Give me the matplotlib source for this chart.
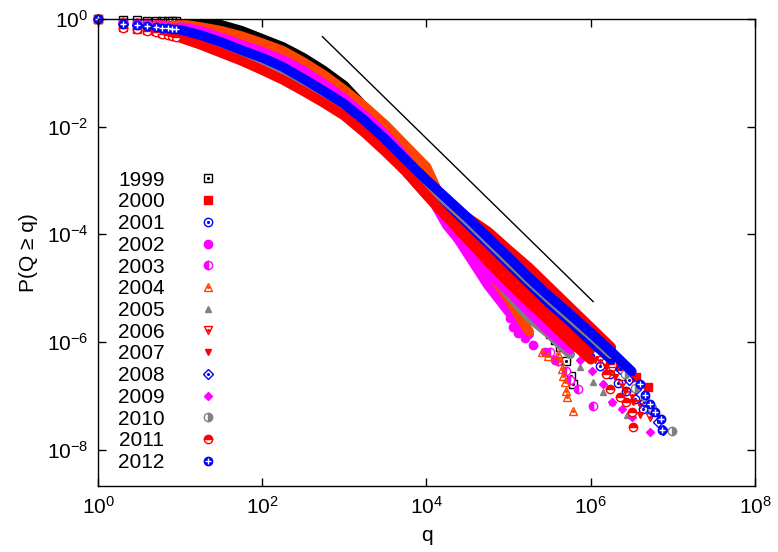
import matplotlib
matplotlib.use('Agg')
import matplotlib.pyplot as plt
from matplotlib.lines import Line2D
from matplotlib.legend_handler import HandlerTuple
from matplotlib.ticker import FixedLocator, FuncFormatter, NullLocator
import numpy as np

plt.rcParams['font.family'] = ['Liberation Sans', 'DejaVu Sans']
plt.rcParams['mathtext.fontset'] = 'custom'
plt.rcParams['mathtext.rm'] = 'Liberation Sans'

years = ['1999', '2000', '2001', '2002', '2003', '2004', '2005',
         '2006', '2007', '2008', '2009', '2010', '2011', '2012']

# log10(q) grid: integer q = 1..9, then quarter decades
lq_grid = [0.0, 0.30, 0.48, 0.60, 0.70, 0.78, 0.85, 0.90, 0.95,
           1.0, 1.25, 1.5, 1.75, 2.0, 2.25, 2.5, 2.75, 3.0, 3.25, 3.5, 3.75,
           4.0, 4.25, 4.5, 4.75, 5.0, 5.25, 5.5, 5.75, 6.0, 6.25, 6.5]
N_HEAD = 9

# log10 P(Q >= q) along lq_grid
p_1999 = [0, -0.02, -0.02, -0.03, -0.03, -0.03, -0.03, -0.04, -0.04,
          -0.04, -0.06, -0.11, -0.22, -0.37, -0.52, -0.72, -0.96, -1.24, -1.65, -2.10, -2.58,
          -3.08, -3.58, -4.10, -4.62, -5.12, -5.51]
p_2000 = [0, -0.15, -0.18, -0.21, -0.23, -0.26, -0.28, -0.30, -0.31,
          -0.32, -0.45, -0.59, -0.74, -0.89, -1.08, -1.30, -1.52, -1.76, -2.08, -2.43, -2.76,
          -3.08, -3.41, -3.69, -3.95, -4.29, -4.62, -4.99, -5.36, -5.73, -6.10]
p_2001 = [0, -0.10, -0.12, -0.14, -0.16, -0.18, -0.19, -0.20, -0.21,
          -0.22, -0.32, -0.46, -0.61, -0.76, -0.95, -1.17, -1.39, -1.63, -1.95, -2.30, -2.71,
          -3.17, -3.64, -4.06, -4.43, -4.81, -5.18, -5.55, -5.92, -6.29]
p_2002 = [0, -0.06, -0.07, -0.08, -0.09, -0.10, -0.11, -0.12, -0.12,
          -0.13, -0.20, -0.32, -0.45, -0.58, -0.72, -0.93, -1.17, -1.45, -1.76, -2.13, -2.58,
          -3.10, -3.64, -4.19, -4.81, -5.36]
p_2003 = [0, -0.07, -0.08, -0.10, -0.11, -0.12, -0.13, -0.14, -0.15,
          -0.15, -0.22, -0.33, -0.46, -0.59, -0.74, -0.95, -1.19, -1.47, -1.78, -2.17, -2.65,
          -3.21, -3.77, -4.36, -4.95, -5.44, -5.86]
p_2004 = [0, -0.04, -0.05, -0.06, -0.06, -0.07, -0.08, -0.08, -0.09,
          -0.09, -0.15, -0.22, -0.32, -0.45, -0.59, -0.80, -1.04, -1.32, -1.63, -1.97, -2.36,
          -2.75, -3.58, -4.14, -4.66, -5.21, -5.81]
p_2005 = [0, -0.11, -0.13, -0.16, -0.17, -0.19, -0.21, -0.22, -0.23,
          -0.24, -0.33, -0.48, -0.61, -0.76, -0.95, -1.17, -1.39, -1.63, -1.95, -2.30, -2.67,
          -3.04, -3.49, -4.01, -4.56, -5.12, -5.55, -5.86, -6.23]
p_2006 = [0, -0.13, -0.15, -0.18, -0.20, -0.22, -0.24, -0.26, -0.27,
          -0.28, -0.39, -0.54, -0.69, -0.83, -1.02, -1.24, -1.47, -1.71, -2.02, -2.37, -2.76,
          -3.17, -3.54, -3.91, -4.29, -4.66, -5.03, -5.40, -5.77, -6.14]
p_2007 = [0, -0.13, -0.16, -0.19, -0.22, -0.24, -0.26, -0.28, -0.29,
          -0.30, -0.43, -0.58, -0.72, -0.87, -1.06, -1.28, -1.50, -1.74, -2.06, -2.43, -2.84,
          -3.27, -3.69, -4.10, -4.47, -4.84, -5.21, -5.58, -5.96]
p_2008 = [0, -0.10, -0.12, -0.14, -0.16, -0.18, -0.19, -0.20, -0.21,
          -0.22, -0.32, -0.46, -0.61, -0.76, -0.95, -1.15, -1.37, -1.61, -1.93, -2.28, -2.65,
          -3.04, -3.43, -3.80, -4.17, -4.55, -4.92, -5.29, -5.62, -5.99, -6.33]
p_2009 = [0, -0.07, -0.08, -0.10, -0.11, -0.12, -0.13, -0.14, -0.15,
          -0.15, -0.22, -0.35, -0.48, -0.61, -0.76, -0.96, -1.21, -1.48, -1.80, -2.15, -2.58,
          -3.17, -3.84, -4.29, -4.71, -5.06, -5.44, -5.81, -6.14]
p_2010 = [0, -0.12, -0.14, -0.17, -0.19, -0.21, -0.22, -0.24, -0.25,
          -0.26, -0.35, -0.48, -0.63, -0.78, -0.95, -1.17, -1.39, -1.63, -1.95, -2.30, -2.67,
          -3.04, -3.40, -3.75, -4.12, -4.49, -4.86, -5.21, -5.55, -5.88, -6.23]
p_2011 = [0, -0.16, -0.19, -0.22, -0.25, -0.28, -0.30, -0.32, -0.34,
          -0.35, -0.48, -0.63, -0.78, -0.95, -1.13, -1.34, -1.56, -1.80, -2.12, -2.47, -2.84,
          -3.27, -3.69, -4.10, -4.51, -4.90, -5.27, -5.62, -5.99, -6.33]
p_2012 = [0, -0.09, -0.11, -0.13, -0.14, -0.16, -0.17, -0.18, -0.19,
          -0.20, -0.30, -0.43, -0.58, -0.72, -0.89, -1.11, -1.34, -1.58, -1.89, -2.24, -2.62,
          -2.99, -3.34, -3.69, -4.06, -4.43, -4.81, -5.16, -5.49, -5.83, -6.18, -6.55]

# sparse tail points (log10 q, log10 P)
tq_1999 = [5.38, 5.44, 5.51, 5.57, 5.63, 5.70, 5.76, 5.79]
tp_1999 = [-5.62, -5.73, -5.86, -5.96, -6.09, -6.36, -6.64, -6.79]
tq_2000 = [6.24, 6.36, 6.46, 6.55, 6.70]
tp_2000 = [-6.33, -6.44, -6.55, -6.66, -6.83]
tq_2001 = [6.11, 6.24, 6.33, 6.43, 6.54, 6.64]
tp_2001 = [-6.44, -6.60, -6.77, -6.92, -7.07, -7.25]
tq_2002 = [5.02, 5.05, 5.12, 5.20, 5.30, 5.44, 5.57]
tp_2002 = [-5.55, -5.73, -5.83, -5.92, -6.05, -6.18, -6.33]
tq_2003 = [5.51, 5.60, 5.70, 5.75, 5.85, 6.03]
tp_2003 = [-6.18, -6.36, -6.55, -6.70, -6.88, -7.20]
tq_2004 = [5.41, 5.48, 5.60, 5.63, 5.65, 5.66, 5.69, 5.70, 5.71, 5.79]
tp_2004 = [-6.18, -6.27, -6.23, -6.36, -6.51, -6.64, -6.75, -6.92, -7.03, -7.29]
tq_2005 = [5.87, 6.03, 6.15, 6.26, 6.44]
tp_2005 = [-6.47, -6.75, -6.94, -7.11, -7.35]
tq_2006 = [6.11, 6.26, 6.38, 6.50, 6.60, 6.72]
tp_2006 = [-6.33, -6.55, -6.79, -6.98, -7.16, -7.40]
tq_2007 = [5.93, 6.05, 6.18, 6.30, 6.42, 6.52, 6.60]
tp_2007 = [-6.14, -6.33, -6.47, -6.66, -6.92, -7.11, -7.35]
tq_2008 = [6.36, 6.46, 6.55, 6.65, 6.75, 6.82, 6.88]
tp_2008 = [-6.51, -6.70, -6.88, -7.11, -7.29, -7.48, -7.63]
tq_2009 = [5.87, 6.02, 6.15, 6.26, 6.38, 6.50, 6.72]
tp_2009 = [-6.33, -6.55, -6.79, -7.12, -7.25, -7.40, -7.68]
tq_2010 = [6.42, 6.54, 6.66, 6.75, 6.85, 6.99]
tp_2010 = [-6.60, -6.85, -7.03, -7.22, -7.44, -7.66]
tq_2011 = [6.18, 6.24, 6.36, 6.43, 6.50, 6.52]
tp_2011 = [-6.60, -6.88, -7.03, -7.11, -7.31, -7.59]
tq_2012 = [6.60, 6.66, 6.72, 6.78, 6.85, 6.87]
tp_2012 = [-6.79, -6.98, -7.16, -7.31, -7.44, -7.63]

# q^-1.5 guide line end points
ref_q = [540, 1.07e6]
ref_p = [0.47, 5.6e-6]

series = {
    '1999': (p_1999, tq_1999, tp_1999), '2000': (p_2000, tq_2000, tp_2000),
    '2001': (p_2001, tq_2001, tp_2001), '2002': (p_2002, tq_2002, tp_2002),
    '2003': (p_2003, tq_2003, tp_2003), '2004': (p_2004, tq_2004, tp_2004),
    '2005': (p_2005, tq_2005, tp_2005), '2006': (p_2006, tq_2006, tp_2006),
    '2007': (p_2007, tq_2007, tp_2007), '2008': (p_2008, tq_2008, tp_2008),
    '2009': (p_2009, tq_2009, tp_2009), '2010': (p_2010, tq_2010, tp_2010),
    '2011': (p_2011, tq_2011, tp_2011), '2012': (p_2012, tq_2012, tp_2012),
}

# color, marker, fillstyle, overlay, size
styles = {
    '1999': ('black', 's', 'none', 'dot', 6),
    '2000': ('red', 's', 'full', None, 6),
    '2001': ('blue', 'o', 'none', 'dot', 6),
    '2002': ('magenta', 'o', 'full', None, 6),
    '2003': ('magenta', 'o', 'left', None, 6),
    '2004': ('#ff4500', '^', 'none', 'dot', 6),
    '2005': ('gray', '^', 'full', None, 5),
    '2006': ('red', 'v', 'none', 'dot', 6),
    '2007': ('red', 'v', 'full', None, 5),
    '2008': ('blue', 'D', 'none', 'dot', 5),
    '2009': ('magenta', 'D', 'full', None, 4),
    '2010': ('gray', 'o', 'right', None, 6),
    '2011': ('red', 'o', 'top', None, 6),
    '2012': ('blue', 'o', 'full', 'cross', 6),
}


def marker_kw(color, marker, fill, ms):
    kw = dict(ls='none', marker=marker, ms=ms, mec=color, mew=1.0)
    if fill == 'none':
        kw.update(mfc='none')
    else:
        kw.update(mfc=color, fillstyle=fill, markerfacecoloralt='white')
    return kw


def overlay_kw(color, overlay):
    if overlay == 'dot':
        return dict(ls='none', marker='.', ms=2.5, color=color)
    return dict(ls='none', marker='+', ms=4, mew=1.0, color='white')


fig, ax = plt.subplots(figsize=(7.78, 5.52), dpi=100)
fig.subplots_adjust(left=0.126, right=0.9704, bottom=0.1196, top=0.9656)
ax.set_xscale('log')
ax.set_yscale('log')

handles = []
for yr in years:
    lp, tq, tp = series[yr]
    color, marker, fill, overlay, ms = styles[yr]
    q = 10 ** np.array(lq_grid[:len(lp)])
    p = 10 ** np.array(lp, dtype=float)

    # dense part of the distribution drawn as a band
    ax.plot(q[N_HEAD:], p[N_HEAD:], color=color, lw=7, solid_capstyle='round')

    mq = np.concatenate([q[:N_HEAD], 10 ** np.array(tq)])
    mp = np.concatenate([p[:N_HEAD], 10 ** np.array(tp)])
    kw = marker_kw(color, marker, fill, ms)
    ax.plot(mq, mp, clip_on=False, **kw)
    h = Line2D([], [], **kw)
    if overlay:
        okw = overlay_kw(color, overlay)
        ax.plot(mq, mp, clip_on=False, **okw)
        h = (h, Line2D([], [], **okw))
    handles.append(h)

ax.plot(ref_q, ref_p, color='black', lw=1)

ax.set_xlim(1, 1e8)
ax.set_ylim(2.1e-9, 1)
ax.xaxis.set_major_locator(FixedLocator([1e0, 1e2, 1e4, 1e6, 1e8]))
ax.yaxis.set_major_locator(FixedLocator([1e-8, 1e-6, 1e-4, 1e-2, 1e0]))
ax.xaxis.set_minor_locator(NullLocator())
ax.yaxis.set_minor_locator(NullLocator())
fmt = FuncFormatter(lambda v, pos: r'$\mathregular{10^{%d}}$' % round(np.log10(v)))
ax.xaxis.set_major_formatter(fmt)
ax.yaxis.set_major_formatter(fmt)
ax.tick_params(direction='in', length=6, width=1, top=True, right=True,
               labelsize=15, pad=7)
for s in ax.spines.values():
    s.set_linewidth(1.0)

ax.set_xlabel('q', fontsize=15, labelpad=6)
ax.set_ylabel('P(Q \u2265 q)', fontsize=15, labelpad=6)

ax.legend(handles=handles, labels=years,
          handler_map={tuple: HandlerTuple(ndivide=1, pad=0)},
          loc='upper left', bbox_to_anchor=(0.03, 0.675), frameon=False,
          markerfirst=False, fontsize=15, labelspacing=0.13, handlelength=1.0,
          handletextpad=1.6, borderpad=0, borderaxespad=0)

plt.savefig('out.png', dpi=100)
plt.close()
